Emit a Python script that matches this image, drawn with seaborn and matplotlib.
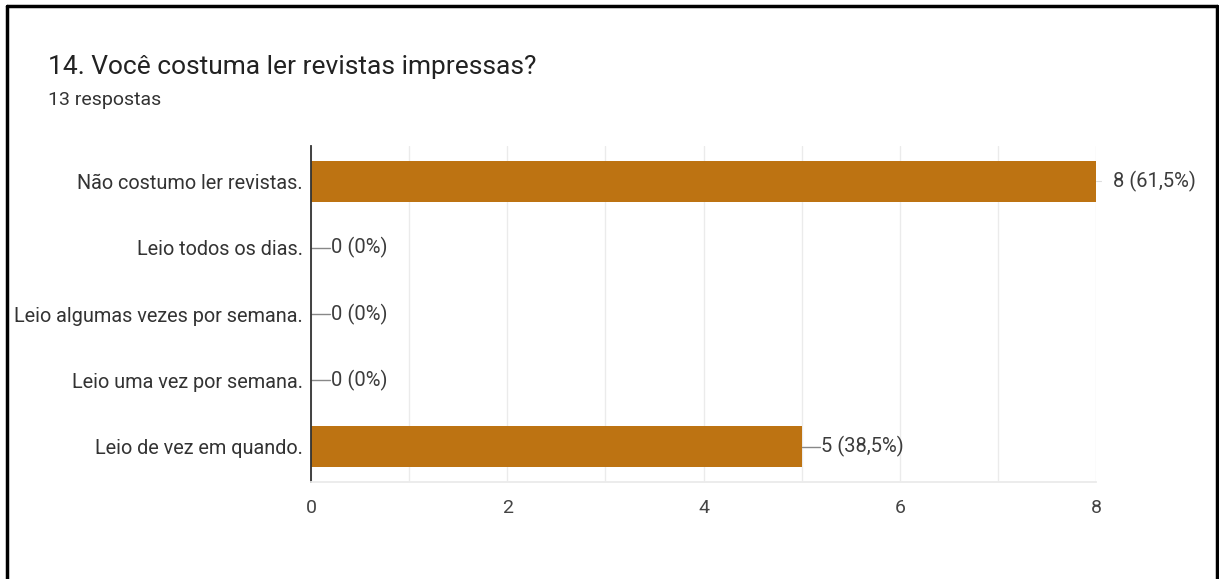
import matplotlib
matplotlib.use("Agg")
import matplotlib.pyplot as plt
import seaborn as sns
import pandas as pd

categories = ["Não costumo ler revistas.", "Leio todos os dias.",
              "Leio algumas vezes por semana.", "Leio uma vez por semana.",
              "Leio de vez em quando."]
counts = [8, 0, 0, 0, 5]
labels = ["8 (61,5%)", "0 (0%)", "0 (0%)", "0 (0%)", "5 (38,5%)"]
x_ticks = [0, 2, 4, 6, 8]
title = "14. Você costuma ler revistas impressas?"
subtitle = "13 respostas"

sns.set_theme(style="white")
plt.rcParams['font.family'] = ['Roboto', 'DejaVu Sans']

df = pd.DataFrame({"cat": categories, "n": counts})

fig = plt.figure(figsize=(12.19, 5.79), dpi=100)
ax = fig.add_axes([311/1219, 1-482/579, (1096-311)/1219, (482-146)/579])

sns.barplot(data=df, x="n", y="cat", orient="h", color="#bd7312",
            saturation=1, width=0.61, ax=ax, linewidth=0)

ax.set_xlim(0, 8)
ax.set_xticks(x_ticks)
ax.set_xticks(range(0, 9), minor=True)
ax.grid(True, axis="x", which="both", color="#ebebeb", linewidth=1)
ax.set_axisbelow(True)
ax.set_xlabel("")
ax.set_ylabel("")
ax.tick_params(axis="x", which="both", length=0, pad=12, labelsize=14, colors="#444444")
ax.tick_params(axis="y", length=0, pad=6, labelsize=14.3, colors="#333333")
for s in ["top", "right"]:
    ax.spines[s].set_visible(False)
ax.spines["left"].set_color("#333333")
ax.spines["left"].set_linewidth(1.3)
ax.spines["bottom"].set_color("#ebebeb")
ax.spines["bottom"].set_linewidth(1.3)

for i, (v, lab) in enumerate(zip(counts, labels)):
    if v == 8:
        ax.plot([v, v + 0.05], [i, i], color="#dddddd", lw=0.8, clip_on=False)
        ax.text(v + 0.175, i, lab, va="center", ha="left", fontsize=14.5, color="#3c3c3c")
    else:
        ax.plot([v, v + 0.19], [i, i], color="#888888", lw=1, clip_on=False)
        ax.text(v + 0.2, i, lab, va="center", ha="left", fontsize=14.5, color="#3c3c3c")

fig.text(48/1219, 1-67/579, title, fontsize=19, color="#222222", va="center", ha="left")
fig.text(48/1219, 1-100/579, subtitle, fontsize=14, color="#333333", va="center", ha="left")

# frame border
fig.add_artist(plt.Line2D([7/1219, 7/1219], [0, 1-6/579], color="black", lw=2.5, transform=fig.transFigure))
fig.add_artist(plt.Line2D([7/1219, 1217/1219], [1-6/579, 1-6/579], color="black", lw=2.5, transform=fig.transFigure))
fig.add_artist(plt.Line2D([1217/1219, 1217/1219], [0, 1-6/579], color="black", lw=2.5, transform=fig.transFigure))

fig.savefig("out.png", dpi=100, facecolor="white")
